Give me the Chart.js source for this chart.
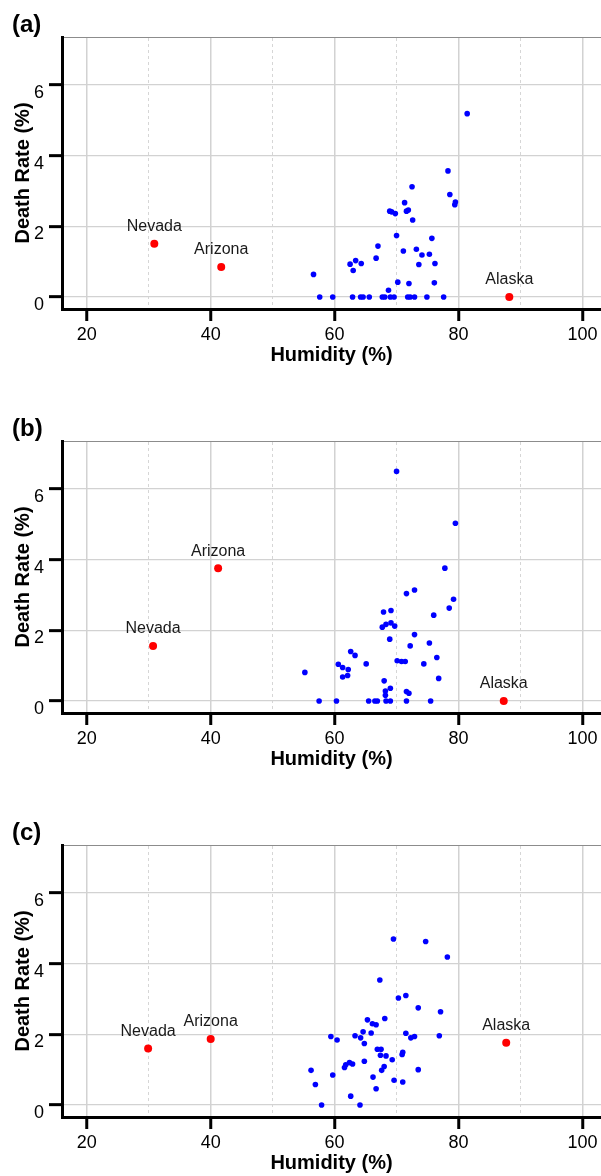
<!DOCTYPE html>
<html>
<head>
<meta charset="utf-8">
<script src="https://cdn.jsdelivr.net/npm/chart.js@4.4.1/dist/chart.umd.min.js"></script>
<style>
  html, body { margin: 0; padding: 0; background: #fff; }
  #wrap { position: relative; width: 601px; height: 1176px; overflow: hidden; }
  canvas { position: absolute; left: 0; }
</style>
</head>
<body>
<div id="wrap">
  <canvas id="panel-a" width="601" height="368" style="top:0px"></canvas>
  <canvas id="panel-b" width="601" height="368" style="top:404px"></canvas>
  <canvas id="panel-c" width="601" height="368" style="top:808px"></canvas>
</div>
<script>
/* global Chart */

const STATES = ["Nevada", "Arizona", "Alaska"];

// (a)
const humidA = [81.4, 78.3, 72.5, 78.6, 79.5, 79.4, 71.3, 71.9, 71.6, 68.9, 69.2, 69.8, 72.6, 70.0, 75.7,
  67.0, 71.1, 73.2, 74.1, 75.3, 66.7, 63.4, 62.5, 64.3, 73.6, 76.2, 63.0, 56.6, 70.2, 72.0, 76.1, 68.7,
  57.6, 59.7, 62.9, 64.2, 64.6, 65.6, 67.7, 68.1, 69.0, 69.6, 71.8, 72.2, 72.9, 74.9, 77.6];
const rateA = [5.19, 3.57, 3.12, 2.90, 2.69, 2.61, 2.67, 2.46, 2.43, 2.43, 2.41, 2.36, 2.18, 1.74, 1.66,
  1.44, 1.30, 1.35, 1.19, 1.21, 1.10, 1.03, 0.93, 0.95, 0.92, 0.95, 0.75, 0.64, 0.42, 0.38, 0.40, 0.19,
  0, 0, 0, 0, 0, 0, 0, 0, 0, 0, 0, 0, 0, 0, 0];
const stateHumidA = [30.9, 41.7, 88.2];
const stateRateA = [1.51, 0.85, 0];

// (b)
const humidB = [70.0, 79.5, 77.8, 72.9, 71.6, 79.2, 78.5, 76.0, 67.9, 69.1, 67.7, 68.3, 69.1, 69.7, 72.9,
  68.9, 72.2, 75.3, 62.6, 63.3, 70.1, 70.8, 71.4, 76.5, 74.4, 65.1, 60.6, 61.3, 62.2, 61.3, 62.1, 55.2,
  76.8, 68.0, 69.0, 68.2, 68.2, 71.6, 72.0,
  57.5, 60.3, 65.5, 66.5, 66.9, 68.3, 69.0, 71.6, 75.5];
const rateB = [6.50, 5.03, 3.76, 3.14, 3.04, 2.88, 2.63, 2.43, 2.52, 2.56, 2.09, 2.17, 2.21, 2.12, 1.88,
  1.75, 1.56, 1.64, 1.40, 1.29, 1.14, 1.12, 1.12, 1.23, 1.05, 1.05, 1.04, 0.95, 0.89, 0.68, 0.72, 0.81,
  0.64, 0.57, 0.36, 0.28, 0.16, 0.27, 0.22,
  0, 0, 0, 0, 0, 0, 0, 0, 0];
const stateHumidB = [30.7, 41.2, 87.3];
const stateRateB = [1.56, 3.76, 0];

// (c)
const humidC = [69.5, 74.7, 78.2, 67.3, 70.3, 71.5, 73.5, 77.1, 68.1, 65.3, 66.1, 66.7, 64.6, 65.9, 59.4,
  63.3, 64.2, 60.4, 64.8, 71.5, 72.3, 72.9, 76.9, 66.9, 67.5, 67.4, 68.3, 71.0, 70.9, 69.3, 64.8, 61.6,
  61.8, 62.4, 62.9, 68.0, 67.6, 56.2, 73.5, 59.7, 66.2, 56.9, 69.6, 71.0, 66.7, 62.6, 57.9, 64.1];
const rateC = [4.70, 4.63, 4.19, 3.54, 3.03, 3.10, 2.75, 2.64, 2.45, 2.41, 2.30, 2.27, 2.07, 2.04, 1.94,
  1.96, 1.90, 1.84, 1.74, 2.03, 1.90, 1.94, 1.96, 1.58, 1.58, 1.41, 1.39, 1.49, 1.43, 1.28, 1.24, 1.06,
  1.14, 1.20, 1.16, 1.09, 0.98, 0.98, 1.00, 0.85, 0.79, 0.58, 0.70, 0.65, 0.46, 0.25, 0, 0];
const stateHumidC = [29.9, 40.0, 87.7];
const stateRateC = [1.60, 1.87, 1.76];

const X_TICKS = [20, 40, 60, 80, 100];
const Y_TICKS = [0, 2, 4, 6];

Chart.defaults.font.family = '"Liberation Sans", Arial, sans-serif';
Chart.defaults.color = "#000";

const zip = (xs, ys) => xs.map((x, i) => ({ x, y: ys[i] }));

const annotate = {
  id: "annotate",
  afterDatasetsDraw(chart, args, opts) {
    const ctx = chart.ctx;
    ctx.save();
    ctx.fillStyle = "#000";
    ctx.textBaseline = "middle";
    ctx.textAlign = "left";
    ctx.font = 'bold 24px "Liberation Sans", Arial, sans-serif';
    ctx.fillText(opts.letter, 12, 25);
    ctx.fillStyle = "#1a1a1a";
    ctx.textAlign = "center";
    ctx.font = '16px "Liberation Sans", Arial, sans-serif';
    chart.getDatasetMeta(1).data.forEach((pt, i) => ctx.fillText(STATES[i], pt.x, pt.y - 17));
    ctx.restore();
  },
};

function makePanel(id, letter, hx, hy, sx, sy) {
  return new Chart(document.getElementById(id), {
    type: "scatter",
    data: {
      datasets: [
        { data: zip(hx, hy), backgroundColor: "#0000ff", borderWidth: 0, pointRadius: 2.8 },
        { data: zip(sx, sy), backgroundColor: "#ff0000", borderWidth: 0, pointRadius: 4 },
      ],
    },
    plugins: [annotate],
    options: {
      responsive: false,
      animation: false,
      events: [],
      layout: { autoPadding: false, padding: { top: 37, left: 0, right: 0, bottom: 0 } },
      plugins: { legend: { display: false }, tooltip: { enabled: false }, annotate: { letter } },
      scales: {
        x: {
          type: "linear",
          position: "bottom",
          min: 16,
          max: 103,
          afterFit: (s) => { s.height = 59; s.paddingLeft = 0; s.paddingRight = 0; },
          afterBuildTicks: (s) => { s.ticks = X_TICKS.map((v) => ({ value: v })); },
          ticks: { font: { size: 18 }, color: "#000", padding: 3, maxRotation: 0 },
          grid: { color: "#d2d2d2", lineWidth: 1.5, tickLength: 12, tickColor: "#000", tickWidth: 3 },
          border: { color: "#000", width: 3 },
          title: {
            display: true,
            text: "Humidity (%)",
            font: { size: 20, weight: "bold" },
            color: "#000",
            padding: { top: 0, bottom: 1 },
          },
        },
        xMinor: {
          type: "linear",
          position: "top",
          min: 16,
          max: 103,
          afterFit: (s) => { s.height = 0; s.paddingLeft = 0; s.paddingRight = 0; },
          ticks: { display: false, stepSize: 10, includeBounds: false },
          grid: {
            drawTicks: false,
            lineWidth: 1,
            color: (c) => (c.tick && c.tick.value % 20 === 0 ? "rgba(0,0,0,0)" : "#d6d6d6"),
          },
          border: { display: true, color: "#8c8c8c", width: 1, dash: [3, 3] },
        },
        y: {
          min: -0.34,
          max: 7.36,
          afterFit: (s) => { s.width = 62; },
          afterBuildTicks: (s) => { s.ticks = Y_TICKS.map((v) => ({ value: v })); },
          ticks: { font: { size: 18 }, color: "#000", padding: 5, labelOffset: 8 },
          grid: { color: "#d2d2d2", lineWidth: 1.3, tickLength: 13, tickColor: "#000", tickWidth: 3 },
          border: { color: "#000", width: 3 },
          title: {
            display: true,
            text: "Death Rate (%)",
            font: { size: 20, weight: "bold" },
            color: "#000",
            padding: { top: 11, bottom: 0 },
          },
        },
      },
    },
  });
}

makePanel("panel-a", "(a)", humidA, rateA, stateHumidA, stateRateA);
makePanel("panel-b", "(b)", humidB, rateB, stateHumidB, stateRateB);
makePanel("panel-c", "(c)", humidC, rateC, stateHumidC, stateRateC);
</script>
</body>
</html>
